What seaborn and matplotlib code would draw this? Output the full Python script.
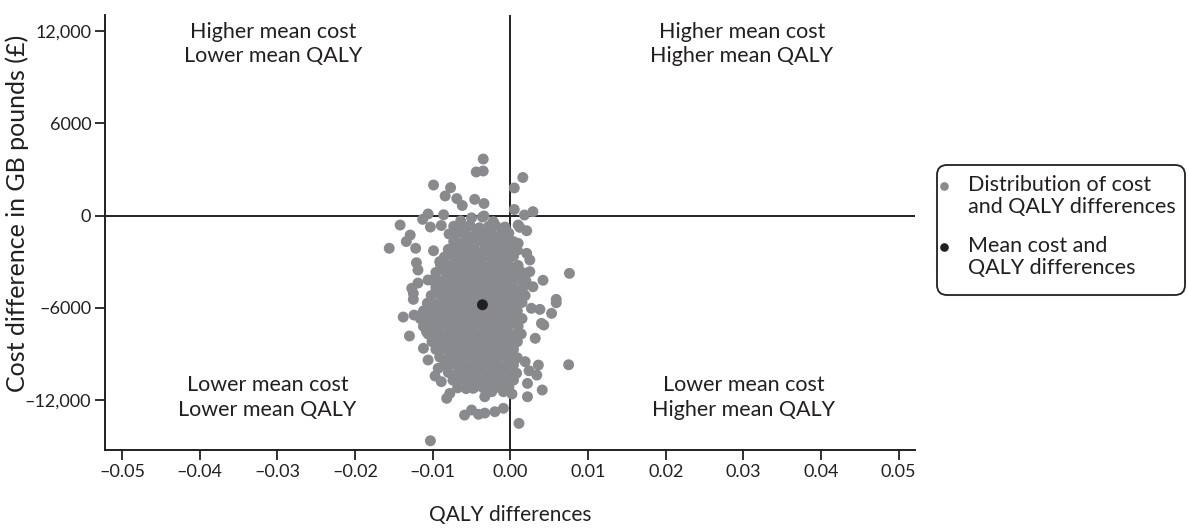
import matplotlib
matplotlib.use("Agg")
import matplotlib.pyplot as plt
from matplotlib.patches import FancyBboxPatch
from matplotlib.lines import Line2D
import pandas as pd
import seaborn as sns

sns.set_style("ticks")
plt.rcParams["font.family"] = ["Lato", "DejaVu Sans"]

# ---- bootstrap replicates: dense central cloud -------------------------
qaly_core = [
    -0.0073, -0.0061, -0.0052, -0.0040, -0.0028, -0.0019, -0.0007,
    -0.0079, -0.0069, -0.0057, -0.0045, -0.0035, -0.0024, -0.0012, -0.0002,
    -0.0073, -0.0062, -0.0050, -0.0040, -0.0029, -0.0017, -0.0007, 0.0004,
    -0.0080, -0.0068, -0.0057, -0.0046, -0.0034, -0.0024, -0.0013, -0.0002, 0.0009,
    -0.0085, -0.0073, -0.0062, -0.0051, -0.0040, -0.0029, -0.0018, -0.0007, 0.0004,
    -0.0090, -0.0079, -0.0068, -0.0057, -0.0046, -0.0035, -0.0024, -0.0013, -0.0002, 0.0010,
    -0.0096, -0.0084, -0.0073, -0.0062, -0.0051, -0.0040, -0.0029, -0.0018, -0.0007, 0.0004, 0.0015,
    -0.0101, -0.0090, -0.0079, -0.0068, -0.0057, -0.0046, -0.0035, -0.0024, -0.0013, -0.0002, 0.0009, 0.0020,
    -0.0096, -0.0084, -0.0073, -0.0062, -0.0051, -0.0040, -0.0029, -0.0018, -0.0007, 0.0004, 0.0016,
    -0.0102, -0.0090, -0.0079, -0.0068, -0.0057, -0.0046, -0.0035, -0.0024, -0.0013, -0.0002, 0.0009, 0.0019,
    -0.0107, -0.0095, -0.0084, -0.0073, -0.0062, -0.0051, -0.0040, -0.0029, -0.0018, -0.0007, 0.0004, 0.0015,
    -0.0112, -0.0101, -0.0090, -0.0079, -0.0068, -0.0057, -0.0046, -0.0035, -0.0024, -0.0013, -0.0002, 0.0009,
    -0.0116, -0.0106, -0.0095, -0.0084, -0.0073, -0.0062, -0.0051, -0.0040, -0.0029, -0.0018, -0.0007, 0.0004, 0.0015,
    -0.0112, -0.0101, -0.0090, -0.0079, -0.0068, -0.0057, -0.0046, -0.0035, -0.0024, -0.0013, -0.0002, 0.0010,
    -0.0106, -0.0095, -0.0084, -0.0073, -0.0062, -0.0051, -0.0040, -0.0029, -0.0018, -0.0007, 0.0004, 0.0014,
    -0.0101, -0.0090, -0.0079, -0.0068, -0.0057, -0.0046, -0.0035, -0.0024, -0.0013, -0.0002, 0.0009,
    -0.0096, -0.0084, -0.0073, -0.0062, -0.0051, -0.0040, -0.0029, -0.0018, -0.0007, 0.0004,
    -0.0091, -0.0079, -0.0068, -0.0057, -0.0046, -0.0035, -0.0024, -0.0013, -0.0002, 0.0009,
    -0.0085, -0.0073, -0.0062, -0.0051, -0.0040, -0.0029, -0.0018, -0.0007, 0.0004,
    -0.0080, -0.0068, -0.0057, -0.0046, -0.0035, -0.0024, -0.0013, -0.0002, 0.0008,
    -0.0074, -0.0062, -0.0051, -0.0040, -0.0029, -0.0018, -0.0007, 0.0004,
    -0.0068, -0.0057, -0.0046, -0.0035, -0.0024, -0.0013, -0.0002,
]
cost_core = [
    -700, -750, -650, -800, -700, -650, -750,
    -1200, -1150, -1250, -1200, -1150, -1250, -1200, -1150,
    -1700, -1750, -1700, -1650, -1700, -1750, -1650, -1700,
    -2200, -2250, -2150, -2200, -2250, -2200, -2150, -2200, -2250,
    -2700, -2650, -2750, -2700, -2700, -2650, -2750, -2700, -2650,
    -3200, -3250, -3200, -3150, -3200, -3250, -3200, -3150, -3200, -3250,
    -3700, -3650, -3700, -3750, -3700, -3650, -3700, -3750, -3700, -3650, -3700,
    -4200, -4250, -4150, -4200, -4250, -4200, -4150, -4200, -4250, -4200, -4150, -4250,
    -4700, -4750, -4700, -4650, -4700, -4750, -4700, -4650, -4700, -4750, -4700,
    -5200, -5150, -5250, -5200, -5150, -5200, -5250, -5200, -5150, -5200, -5250, -5200,
    -5700, -5750, -5700, -5650, -5700, -5750, -5700, -5650, -5700, -5750, -5700, -5650,
    -6200, -6150, -6250, -6200, -6150, -6200, -6250, -6200, -6150, -6200, -6250, -6200,
    -6700, -6750, -6700, -6650, -6700, -6750, -6700, -6650, -6700, -6750, -6700, -6650, -6700,
    -7200, -7250, -7150, -7200, -7250, -7200, -7150, -7200, -7250, -7200, -7150, -7200,
    -7700, -7650, -7750, -7700, -7650, -7700, -7750, -7700, -7650, -7700, -7750, -7700,
    -8200, -8250, -8200, -8150, -8200, -8250, -8200, -8150, -8200, -8250, -8200,
    -8700, -8650, -8750, -8700, -8650, -8700, -8750, -8700, -8650, -8700,
    -9200, -9250, -9200, -9150, -9200, -9250, -9200, -9150, -9200, -9250,
    -9700, -9650, -9700, -9750, -9700, -9650, -9700, -9750, -9700,
    -10200, -10250, -10150, -10200, -10250, -10200, -10150, -10200, -10250,
    -10700, -10650, -10750, -10700, -10650, -10700, -10750, -10700,
    -11200, -11250, -11150, -11200, -11250, -11200, -11150,
]

# ---- bootstrap replicates: scattered edge of the cloud -----------------
qaly_edge = [
    -0.0035, -0.0044, -0.0035, -0.0099, -0.0077, -0.0084, -0.0069, -0.0062,
    -0.0046, -0.0034, 0.0016, 0.0005, 0.0005, 0.0029, 0.0018, -0.0106,
    -0.0086, -0.0113, -0.0142, -0.0129, -0.0134, -0.0156, -0.0122, -0.0103,
    -0.0089, 0.0021, 0.0012, -0.0034, -0.0099, -0.0091, -0.0121, -0.0119,
    0.0010, 0.0010, 0.0021, 0.0025, 0.0025, 0.0076, 0.0042, 0.0029,
    0.0059, 0.0053, 0.0038, 0.0027, 0.0040, 0.0032, 0.0043, -0.0125,
    -0.0125, -0.0138, -0.0124, -0.0130, -0.0108, -0.0112, -0.0106, -0.0093,
    -0.0127, -0.0119, -0.0106, 0.0075, 0.0036, 0.0034, 0.0024, 0.0022,
    0.0041, 0.0022, 0.0011, -0.0103, -0.0059, -0.0041, -0.0020, -0.0009,
    -0.0050, -0.0082, -0.0078, -0.0033, -0.0024, -0.0009, 0.0002, -0.0048,
    -0.0033, -0.0097, -0.0089, 0.0019, 0.0059, -0.0050, -0.0036, -0.0022,
    -0.0064,
]
cost_edge = [
    3670, 2830, 2890, 1980, 1810, 1270, 1100, 650,
    1050, 780, 2470, 1790, 390, 250, 30, 100,
    50, -250, -620, -1270, -1690, -2130, -2130, -750,
    -650, -990, -770, -30, -2290, -3000, -3070, -3540,
    -620, -1810, -2460, -2890, -3650, -3760, -4210, -4630,
    -5670, -6360, -6100, -6030, -7010, -7980, -7120, -5060,
    -5450, -6600, -6470, -7830, -7550, -8630, -9390, -9930,
    -4730, -4390, -4190, -9700, -9720, -10370, -10090, -10910,
    -11340, -11780, -13510, -14640, -12970, -12920, -12750, -12530,
    -12640, -11880, -11560, -11780, -11450, -11450, -11600, -11230,
    -12840, -10430, -10800, -9500, -5450, -150, -100, -400,
    -350,
]

# ---- mean of the replicates --------------------------------------------
qaly_mean = [-0.0036]
cost_mean = [-5800]

# ---- axis ticks and quadrant annotations -------------------------------
x_ticks = [-0.05, -0.04, -0.03, -0.02, -0.01, 0.0, 0.01, 0.02, 0.03, 0.04, 0.05]
x_tick_labels = ["\u20130.05", "\u20130.04", "\u20130.03", "\u20130.02", "\u20130.01",
                 "0.00", "0.01", "0.02", "0.03", "0.04", "0.05"]
y_ticks = [12000, 6000, 0, -6000, -12000]
y_tick_labels = ["12,000", "6000", "0", "\u20136000", "\u201312,000"]

quadrant_text = [
    "Higher mean cost\nLower mean QALY",
    "Higher mean cost\nHigher mean QALY",
    "Lower mean cost\nLower mean QALY",
    "Lower mean cost\nHigher mean QALY",
]
quadrant_x = [-0.0305, 0.0298, -0.0313, 0.0300]
quadrant_y = [11150, 11150, -11850, -11850]

legend_labels = ["Distribution of cost\nand QALY differences",
                 "Mean cost and\nQALY differences"]

GREY = "#898a8d"
INK = "#231f20"

replicates = pd.DataFrame({
    "qaly": qaly_core + qaly_edge,
    "cost": cost_core + cost_edge,
})
mean_point = pd.DataFrame({"qaly": qaly_mean, "cost": cost_mean})

fig = plt.figure(figsize=(11.88, 5.28), dpi=100)
ax = fig.add_axes([0.0884, 0.1477, 0.6818, 0.8239])

# quadrant dividers sit beneath the points
ax.axhline(0, color=INK, lw=1.4, zorder=1)
ax.axvline(0, color=INK, lw=1.4, zorder=1)

sns.scatterplot(data=replicates, x="qaly", y="cost", color=GREY, s=62,
                edgecolor="none", linewidth=0, ax=ax, zorder=2, legend=False)
sns.scatterplot(data=mean_point, x="qaly", y="cost", color=INK, s=62,
                edgecolor="none", linewidth=0, ax=ax, zorder=3, legend=False)

ax.set_xlim(-0.0522, 0.0521)
ax.set_ylim(-15240, 13030)
ax.set_xticks(x_ticks)
ax.set_xticklabels(x_tick_labels)
ax.set_yticks(y_ticks)
ax.set_yticklabels(y_tick_labels)
ax.tick_params(axis="both", direction="out", length=7, width=1.3,
               color=INK, labelcolor=INK, labelsize=13, pad=3)

for side in ("top", "right"):
    ax.spines[side].set_visible(False)
for side in ("left", "bottom"):
    ax.spines[side].set_color(INK)
    ax.spines[side].set_linewidth(1.4)

ax.set_xlabel("QALY differences", fontsize=15, color=INK, labelpad=18)
ax.set_ylabel("Cost difference in GB pounds (\u00a3)", fontsize=18, color=INK)
# centred on the tick span rather than the full axis height
ax.yaxis.set_label_coords(-0.094, 0.545)

for txt, qx, qy in zip(quadrant_text, quadrant_x, quadrant_y):
    ax.text(qx, qy, txt, ha="center", va="center", fontsize=15.5, color=INK,
            linespacing=1.3)

# legend panel to the right of the plot
box = FancyBboxPatch((9.37, 2.33), 2.48, 1.30,
                     boxstyle="round,pad=0,rounding_size=0.1",
                     transform=fig.dpi_scale_trans, facecolor="white",
                     edgecolor=INK, linewidth=1.3)
fig.patches.append(box)
for label, colour, y_px in zip(legend_labels, [GREY, INK], [186, 247]):
    fy = 1 - y_px / 528
    fig.lines.append(Line2D([944 / 1188], [fy], transform=fig.transFigure,
                            marker="o", markersize=5.2, color=colour, ls="none"))
    fig.text(968 / 1188, fy + 11 / 528, label, ha="left", va="top",
             fontsize=15.5, color=INK, linespacing=1.1)

fig.savefig("out.png", dpi=100)
